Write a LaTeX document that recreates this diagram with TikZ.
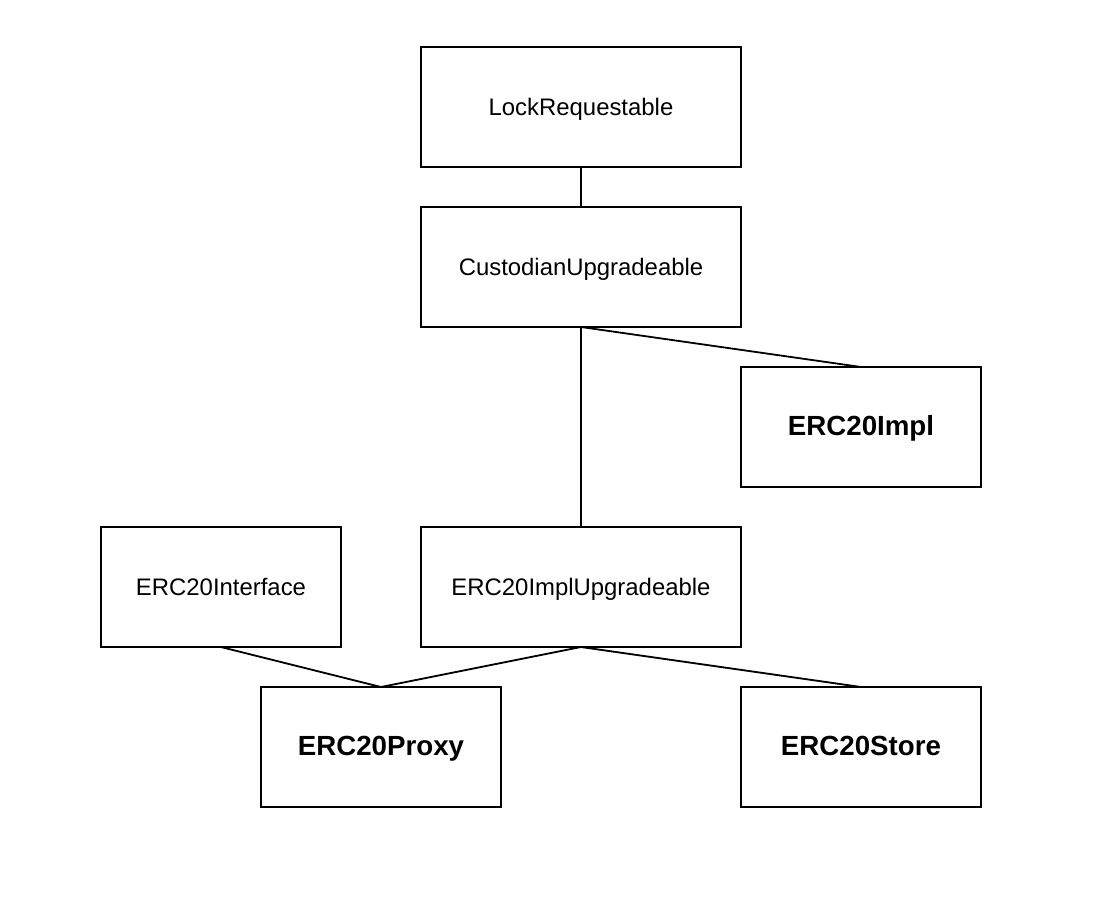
\documentclass[tikz,border=0pt]{standalone}
\usepackage{fontspec}
\setmainfont{Liberation Sans}
\usetikzlibrary{positioning}

\begin{document}
\begin{tikzpicture}[
        node distance=1cm,
        every node/.style={draw, line width=1.3pt, align=center, minimum height=3cm, inner sep=0pt, outer sep=0pt, text height=2.3ex, text depth=0pt},
        every path/.style={line width=1.3pt},
        wide/.style={minimum width=8cm, font=\fontsize{17}{20}\selectfont},
        plain/.style={minimum width=6cm, font=\fontsize{17}{20}\selectfont},
        contract/.style={minimum width=6cm, font=\fontsize{19.7}{23}\selectfont\bfseries}
    ]
    \useasboundingbox (0,0) rectangle (27.6,-22.8);

    % Nodes
    \node (lock) [wide] at (14.525,-2.675) {LockRequestable};
    \node (cust) [wide, below=of lock] {CustodianUpgradeable};
    \node (impl) [contract, below right=1cm and 0cm of cust] {ERC20Impl};
    \node (implup) [wide, below=5cm of cust] {ERC20ImplUpgradeable};
    \node (iface) [plain, left=2cm of implup] {ERC20Interface};
    \node (proxy) [contract, below=of iface, xshift=4cm] {ERC20Proxy};
    \node (store) [contract, below=5cm of impl] {ERC20Store};

    % Edges
    \draw (lock) -- (cust);
    \draw (cust.south) -- (impl.north);
    \draw (cust) -- (implup);
    \draw (iface.south) -- (proxy.north);
    \draw (implup.south) -- (proxy.north);
    \draw (implup.south) -- (store.north);

\end{tikzpicture}
\end{document}
